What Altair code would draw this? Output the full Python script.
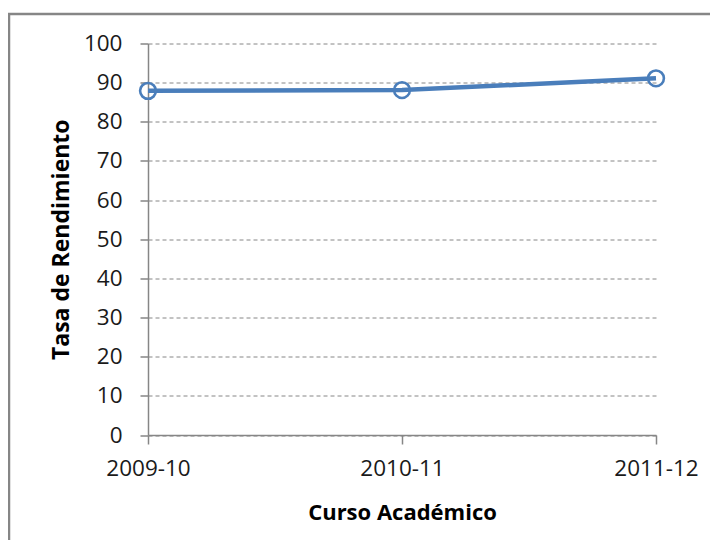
import altair as alt
import pandas as pd

cursos = ["2009-10", "2010-11", "2011-12"]
tasa = [87.9, 88.1, 91.1]

df = pd.DataFrame({"curso": cursos, "tasa": tasa})

LINE = "#4A7EBB"
GRAY = "#868686"
FONT = "Open Sans"

x_enc = alt.X(
    "curso:O",
    sort=cursos,
    scale=alt.Scale(type="point", padding=0),
    axis=alt.Axis(
        title="Curso Académico",
        labelAngle=0,
        labelFont=FONT,
        labelFontSize=22.5,
        labelColor="#1a1a1a",
        labelPadding=13,
        tickSize=9,
        tickColor=GRAY,
        domainColor=GRAY,
        domainWidth=1.5,
        tickWidth=1.5,
        grid=False,
        titleFont=FONT,
        titleFontSize=22,
        titleFontWeight="bold",
        titleColor="#000000",
        titlePadding=23,
    ),
)
y_enc = alt.Y(
    "tasa:Q",
    scale=alt.Scale(domain=[0, 100], nice=False),
    axis=alt.Axis(
        title="Tasa de Rendimiento",
        values=list(range(0, 101, 10)),
        labelOverlap=False,
        labelFont=FONT,
        labelFontSize=22.5,
        labelColor="#1a1a1a",
        labelPadding=18,
        tickSize=8,
        tickColor=GRAY,
        domainColor=GRAY,
        domainWidth=1.5,
        tickWidth=1.5,
        grid=True,
        gridColor=GRAY,
        gridDash=[4, 3],
        gridWidth=1,
        titleFont=FONT,
        titleFontSize=23,
        titleFontWeight="bold",
        titleColor="#000000",
        titlePadding=10,
    ),
)

line = alt.Chart(df).mark_line(color=LINE, strokeWidth=4.5).encode(x=x_enc, y=y_enc)
points = alt.Chart(df).mark_point(
    shape="circle", size=250, filled=False, color=LINE, strokeWidth=2.6, opacity=1
).encode(x=x_enc, y=y_enc)

frame_df = pd.DataFrame({"k": [0]})
frame = alt.Chart(frame_df).mark_rect(
    filled=False, stroke=GRAY, strokeWidth=2.5, clip=False
).encode(
    x=alt.value(-139),
    x2=alt.value(620),
    y=alt.value(-29.5),
    y2=alt.value(600),
)

chart = (
    alt.layer(line, points, frame)
    .properties(
        width=508,
        height=391.5,
        autosize=alt.AutoSizeParams(type="none"),
        padding={"left": 140, "top": 35.5, "right": 54, "bottom": 105},
        background="white",
    )
    .configure_view(stroke=None)
)

chart.save("out.html", embed_options={"renderer": "svg", "actions": False})
